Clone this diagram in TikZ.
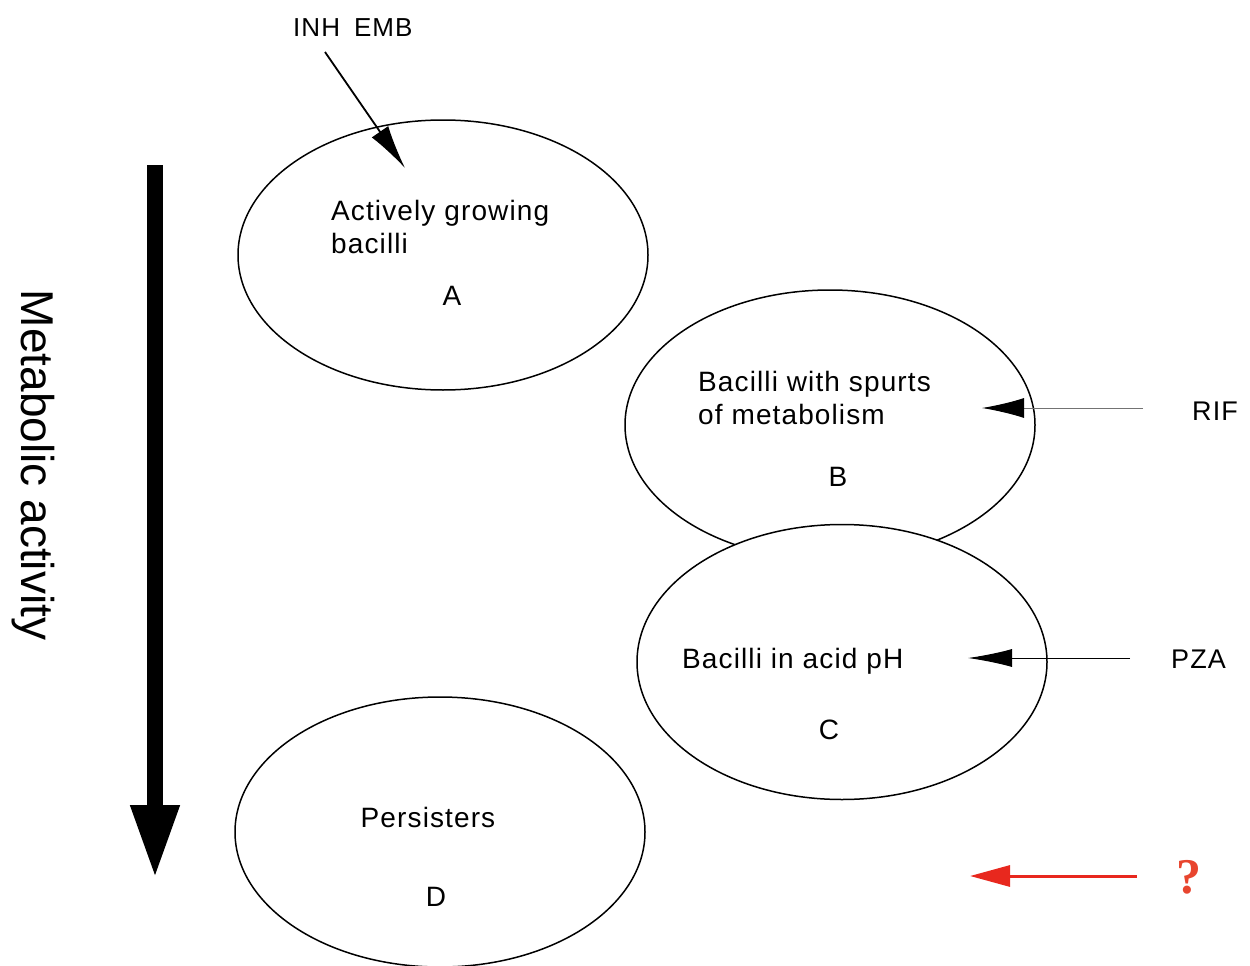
\documentclass[tikz,border=0pt]{standalone}
\usepackage{fontspec}
\setmainfont{Liberation Sans}
\newfontfamily\wfont[LetterSpace=4]{Liberation Sans}
\newfontfamily\qfont{Liberation Serif}
\usetikzlibrary{shapes.geometric,arrows.meta}
\definecolor{arrred}{HTML}{E8281E}
\definecolor{qred}{HTML}{E8452E}
\begin{document}
\begin{tikzpicture}[x=1pt,y=-1pt,
  oval/.style={ellipse, draw, line width=1.5pt, fill=white, minimum width=410pt, minimum height=270pt, inner sep=0pt},
  txt/.style={font=\wfont\fontsize{28}{32}\selectfont, inner sep=0pt, anchor=base west},
  ctxt/.style={font=\wfont\fontsize{28}{32}\selectfont, inner sep=0pt, anchor=base},
  drug/.style={font=\wfont\fontsize{27}{32}\selectfont, inner sep=0pt, anchor=base west},
  darrow/.style={line width=1pt, -{Latex[length=42pt,width=20pt]}}
]
\useasboundingbox (0,0) rectangle (1250,966);
% ellipses
\node[oval] (A) at (443,255) {};
\node[oval] (B) at (830,425) {};
\node[oval, minimum height=275pt] (C) at (842,662) {};
\node[oval] (D) at (440,832) {};
% texts in ellipses
\node[txt] (a1) at (331,220) {Actively growing};
\node[txt] (a2) at (331,253) {bacilli};
\node[ctxt] (la) at (452,305) {A};
\node[txt] (b1) at (698,391) {Bacilli with spurts};
\node[txt] (b2) at (698,424) {of metabolism};
\node[ctxt] (lb) at (838,486) {B};
\node[txt] (c1) at (682,668) {Bacilli in acid pH};
\node[ctxt] (lc) at (829,739) {C};
\node[ctxt] (d1) at (428,827) {Persisters};
\node[ctxt] (ld) at (436,906) {D};
% metabolic activity
\node[font=\fontsize{46}{50}\selectfont, inner sep=0pt, anchor=base, rotate=-90] (meta) at (21,465) {Metabolic activity};
\coordinate (mtop) at (155,165);
\coordinate (mbot) at (155,879);
\draw[line width=16pt, -{Triangle[length=74pt,width=45pt]}] (mtop) -- (mbot);
% drugs
\node[font=\wfont\fontsize{26}{30}\selectfont, inner sep=0pt, anchor=base west] (inh) at (293,37) {INH\hspace{14pt}EMB};
\coordinate (inhs) at (325,52);
\coordinate (inht) at (405,168);
\draw[line width=1.8pt, -{Latex[length=44pt,width=20pt]}] (inhs) -- (inht);
\node[drug] (rif) at (1192,420) {RIF};
\coordinate (rifs) at (1143,408);
\coordinate (rift) at (982,408);
\draw[line width=1pt, draw=black!55, -{Latex[length=42pt,width=20pt,color=black]}] (rifs) -- (rift);
\node[drug] (pza) at (1171,668) {PZA};
\coordinate (pzas) at (1130,658);
\coordinate (pzat) at (968,658);
\draw[darrow, -{Latex[length=44pt,width=18pt]}] (pzas) -- (pzat);
\node[font=\qfont\bfseries\fontsize{50}{54}\selectfont, text=qred, inner sep=0pt, anchor=base] (q) at (1189,893) {?};
\coordinate (qs) at (1137,876);
\coordinate (qt) at (970,876);
\draw[line width=3pt, arrred, -{Triangle[length=40pt,width=21pt]}] (qs) -- (qt);
\end{tikzpicture}
\end{document}
